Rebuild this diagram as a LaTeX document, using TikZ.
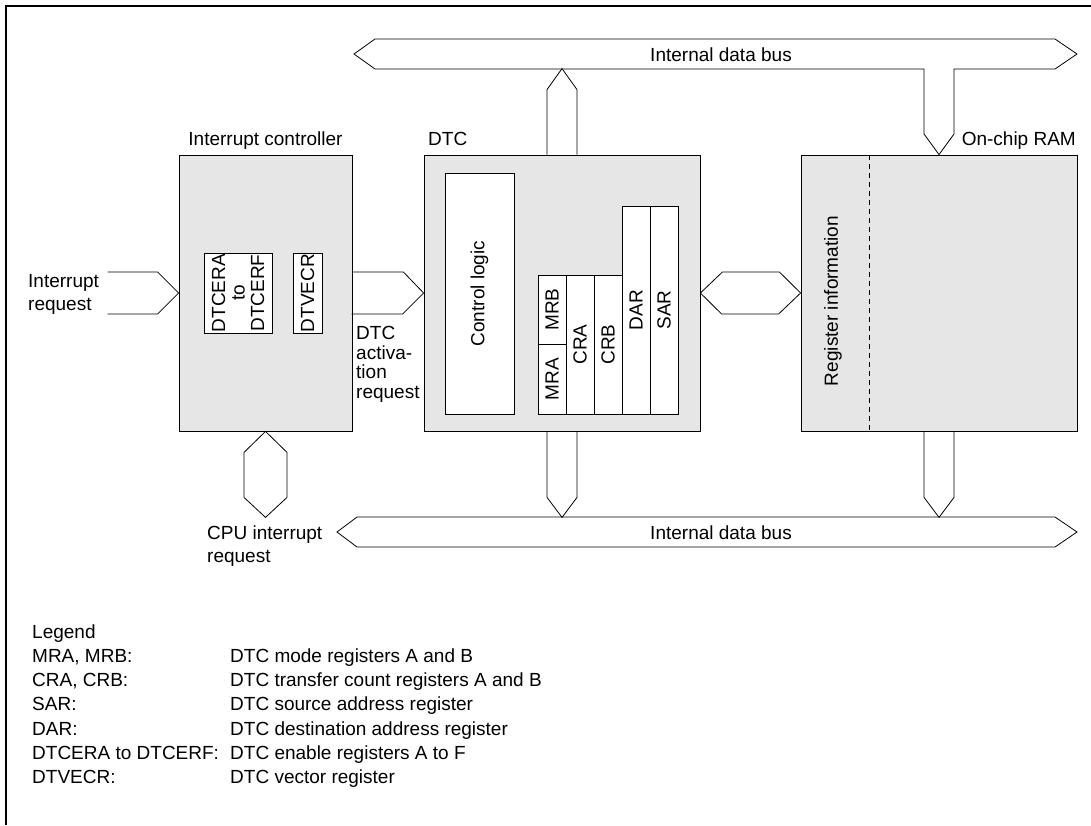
\documentclass[tikz,border=0pt]{standalone}
\usepackage{fontspec}
\setmainfont{Liberation Sans}
\usetikzlibrary{calc}
\usepackage{xcolor}
\definecolor{UnitGray}{RGB}{230,230,230}
\newcommand{\diagfont}{\fontsize{19}{23}\selectfont}
\tikzset{
  unit/.style={draw, fill=UnitGray, line width=0.8pt, inner sep=0pt},
  regbox/.style={draw, fill=white, line width=0.8pt, inner sep=0pt,
    rotate=90, align=center},
  bus/.style={draw, line width=0.8pt, line join=miter},
  caption/.style={inner sep=0pt, align=left},
  tight/.style={font=\fontsize{19}{19.5}\selectfont}
}

\begin{document}
\begin{tikzpicture}[x=1pt, y=-1pt, font=\diagfont]
  \useasboundingbox (0,0) rectangle (1091,825);
  \draw[line width=2pt] (6,825) -- (6,6) -- (1091,6);

  % main units
  \node[unit, minimum width=173pt, minimum height=276pt] (ic) at (265.5,293) {};
  \node[unit, minimum width=276pt, minimum height=276pt] (dtc) at (562,293) {};
  \node[unit, minimum width=276pt, minimum height=276pt] (ram) at (939,293) {};
  \node[caption, anchor=base] (iclabel) at (265.5,145) {Interrupt controller};
  \node[caption, anchor=base west] (dtclabel) at (428,145) {DTC};
  \node[caption, anchor=base east] (ramlabel) at (1076,145) {On-chip RAM};

  % interrupt controller registers
  \node[regbox, tight, minimum width=80pt, minimum height=68pt] (dtcer) at (238,293) {DTCERA\\to\\DTCERF};
  \node[regbox, minimum width=80pt, minimum height=29pt] (dtvecr) at (307.5,293) {DTVECR};

  % DTC contents
  \node[regbox, minimum width=241pt, minimum height=69pt] (ctrl) at (479.5,293.5) {Control logic};
  \node[regbox, minimum width=69pt, minimum height=28pt] (mrb) at (552,309.5) {MRB};
  \node[regbox, minimum width=70pt, minimum height=28pt] (mra) at (552,379) {MRA};
  \node[regbox, minimum width=139pt, minimum height=28pt] (cra) at (580,344.5) {CRA};
  \node[regbox, minimum width=139pt, minimum height=28pt] (crb) at (608,344.5) {CRB};
  \node[regbox, minimum width=208pt, minimum height=28pt] (dar) at (636,310) {DAR};
  \node[regbox, minimum width=208pt, minimum height=28pt] (sar) at (664,310) {SAR};

  % on-chip RAM contents
  \draw[line width=0.8pt, dash pattern=on 5pt off 4pt] ([xshift=-70pt]ram.north) -- ([xshift=-70pt]ram.south);
  \node[rotate=90, inner sep=0pt] (reginfo) at (833,301) {Register information};

  % internal data buses
  \draw[bus] (354,54) -- (375,39) -- (1055,39) -- (1077,54) -- (1055,69)
    -- (954,69) -- (954,134) -- (ram.north) -- (924,134) -- (924,69) -- (375,69) -- cycle;
  \node[caption, anchor=base] (topbuslabel) at (721,61) {Internal data bus};
  \draw[bus] (337,532) -- (357,517) -- (1055,517) -- (1077,532) -- (1055,547) -- (357,547) -- cycle;
  \node[caption, anchor=base] (botbuslabel) at (721,539) {Internal data bus};

  % bus connections
  \draw[bus] (dtc.north) ++(-15,0) -- ++(0,-65) -- ++(15,-21) -- ++(15,21) -- ++(0,65);
  \draw[bus] (dtc.south) ++(-15,0) -- ++(0,66) -- ++(15,20) -- ++(15,-20) -- ++(0,-66);
  \draw[bus] (ram.south) ++(-15,0) -- ++(0,66) -- ++(15,20) -- ++(15,-20) -- ++(0,-66);
  \draw[bus] (dtc.east) -- ++(22,-21) -- ++(57,0) -- (ram.west) -- ++(-22,21) -- ++(-57,0) -- cycle;

  % interrupt signals (base = last line)
  \draw[bus] (ic.west) ++(-71,-21) -- ++(50,0) -- (ic.west) -- ++(-21,21) -- ++(-50,0);
  \node[caption, anchor=base west] (irqlabel) at (28,310) {Interrupt\\request};
  \draw[bus] (ic.east) ++(0,-21) -- ++(51,0) -- (dtc.west) -- ++(-21,21) -- ++(-51,0);
  \node[caption, tight, anchor=base west] (actlabel) at (356,398) {DTC\\activa-\\tion\\request};
  \draw[bus] (ic.south) -- ++(21.5,21) -- ++(0,45) -- ++(-21.5,20) -- ++(-21.5,-20) -- ++(0,-45) -- cycle;
  \node[caption, anchor=base west] (cpulabel) at (207,562) {CPU interrupt\\request};

  % legend
  \node[caption, anchor=north west, font=\fontsize{19}{24.25}\selectfont] (legend) at (32,621) {%
    \begin{tabular}{@{}p{198pt}@{}l@{}}
      \multicolumn{2}{@{}l@{}}{Legend}\\
      MRA, MRB: & DTC mode registers A and B\\
      CRA, CRB: & DTC transfer count registers A and B\\
      SAR: & DTC source address register\\
      DAR: & DTC destination address register\\
      DTCERA to DTCERF: & DTC enable registers A to F\\
      DTVECR: & DTC vector register
    \end{tabular}};
\end{tikzpicture}
\end{document}
